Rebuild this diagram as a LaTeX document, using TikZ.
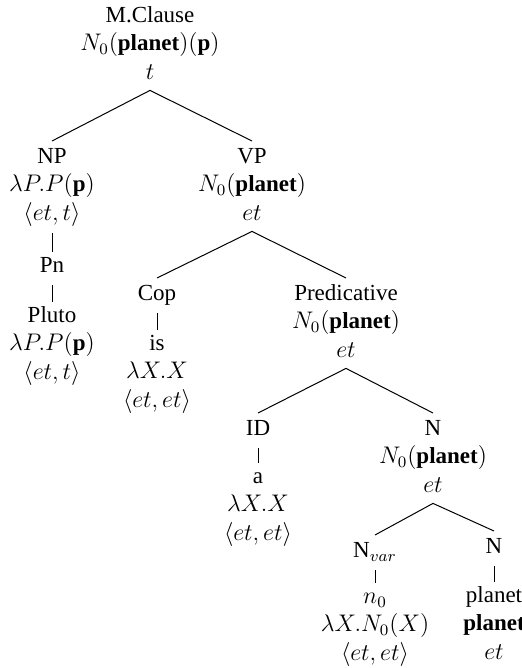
\documentclass[tikz,border=0pt]{standalone}
\usepackage{fontspec}
\setmainfont{Liberation Serif}
\usepackage{tikz}
\newcommand{\cs}{\rule[-4.3pt]{0pt}{14.3pt}}
\tikzstyle{cat} = [anchor=north, align=center, inner xsep=1pt, inner ysep=1pt, font=\fontsize{11.5}{14.25}\selectfont]
\tikzstyle{branch} = [line width=0.5pt]
\tikzstyle{unary} = [line width=0.5pt, shorten <=1pt, shorten >=-1pt]

\begin{document}
\begin{tikzpicture}[x=0.5pt, y=-0.5pt]
\useasboundingbox (0,0) rectangle (522,668);

\node (clause) [cat] at (150,0) {\cs M.Clause\\ $N_0(\textbf{planet})(\textbf{p})$\\ $t$\cs};

\node (np) [cat] at (52,141) {\cs NP\\ $\lambda P.P(\textbf{p})$\\ $\langle et,t\rangle$\cs};
\node (pn) [cat] at (52,250) {\cs Pn\cs};
\node (pluto) [cat] at (52,300) {\cs Pluto\\ $\lambda P.P(\textbf{p})$\\ $\langle et,t\rangle$\cs};

\node (vp) [cat] at (252,141) {\cs VP\\ $N_0(\textbf{planet})$\\ $et$\cs};
\node (cop) [cat] at (157,278) {\cs Cop\cs};
\node (is) [cat] at (157,328) {\cs is\\ $\lambda X.X$\\ $\langle et,et\rangle$\cs};

\node (pred) [cat] at (346,278) {\cs Predicative\\ $N_0(\textbf{planet})$\\ $et$\cs};
\node (id) [cat] at (258,413) {\cs ID\cs};
\node (a) [cat] at (258,461) {\cs a\\ $\lambda X.X$\\ $\langle et,et\rangle$\cs};

\node (n1) [cat] at (433,413) {\cs N\\ $N_0(\textbf{planet})$\\ $et$\cs};
\node (nvar) [cat] at (375,535) {\cs N$_{var}$\cs};
\node (n0) [cat] at (375,581) {\cs $n_0$\\ $\lambda X.N_0(X)$\\ $\langle et,et\rangle$\cs};
\node (n2) [cat] at (494,531) {\cs N\cs};
\node (planet) [cat] at (494,580) {\cs planet\\ \textbf{planet}\\ $et$\cs};

\draw [branch] (np.north) -- (clause.south) -- (vp.north);
\draw [unary] (np) -- (pn);
\draw [unary] (pn) -- (pluto);
\draw [branch] (cop.north) -- (vp.south) -- (pred.north);
\draw [unary] (cop) -- (is);
\draw [branch] (id.north) -- (pred.south) -- (n1.north);
\draw [unary] (id) -- (a);
\draw [branch] (nvar.north) -- (n1.south) -- (n2.north);
\draw [unary] (nvar) -- (n0);
\draw [unary] (n2) -- (planet);
\end{tikzpicture}
\end{document}
